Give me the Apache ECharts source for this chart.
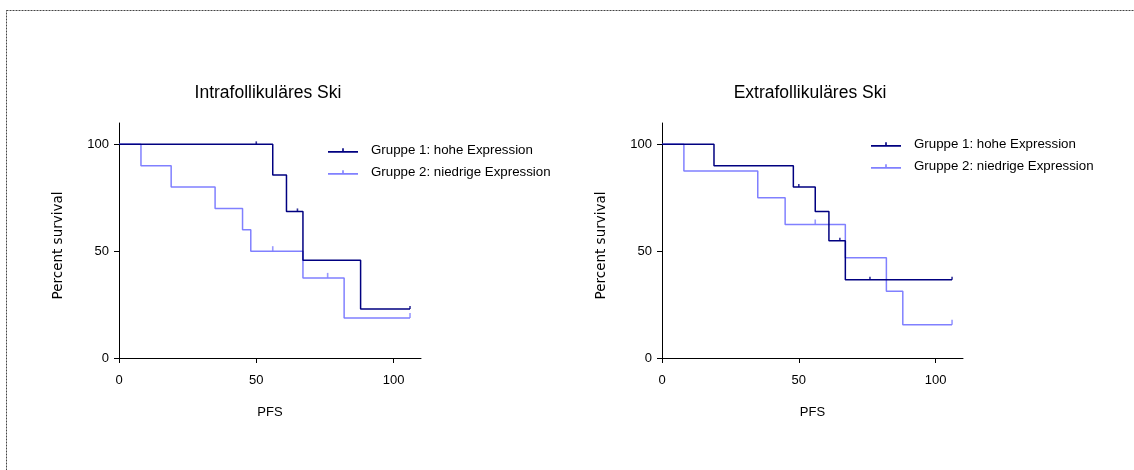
<!DOCTYPE html>
<html>
<head>
<meta charset="utf-8">
<script src="https://cdn.jsdelivr.net/npm/echarts@6/dist/echarts.min.js"></script>
<style>
html,body{margin:0;padding:0;background:#fff;}
#c{width:1134px;height:470px;}
</style>
</head>
<body>
<div id="c"></div>
<script>
// ---------- data ----------
const titles = ['Intrafollikuläres Ski', 'Extrafollikuläres Ski'];
const seriesNames = ['Gruppe 1: hohe Expression', 'Gruppe 2: niedrige Expression'];
const tickValues = [0, 50, 100];

// Left chart (Intrafollikuläres Ski): [time, survival after step]
const intraG1Steps = [[0,100],[56,85.7],[61,68.6],[67,45.7],[88,22.9],[106,22.9]];
const intraG1Censored = [[50,100],[65,68.6],[106,22.9]];
const intraG2Steps = [[0,100],[8,90],[19,80],[35,70],[45,60],[48,50],[67,37.5],[82,18.75],[106,18.75]];
const intraG2Censored = [[56,50],[76,37.5],[106,18.75]];

// Right chart (Extrafollikuläres Ski)
const extraG1Steps = [[0,100],[19,90],[48,80],[56,68.6],[61,54.9],[67,36.6],[106,36.6]];
const extraG1Censored = [[50,80],[65,54.9],[76,36.6],[106,36.6]];
const extraG2Steps = [[0,100],[8,87.5],[35,75],[45,62.5],[67,46.9],[82,31.25],[88,15.6],[106,15.6]];
const extraG2Censored = [[56,62.5],[106,15.6]];

// ---------- chart ----------
const DARK = '#000080';
const LIGHT = '#8080ff';
const FONT = 'Liberation Sans, Arial, sans-serif';

const chart = echarts.init(document.getElementById('c'), null, {renderer: 'canvas'});

const grids = [
  {left: 119, top: 123, width: 302, height: 235},
  {left: 662, top: 123, width: 301, height: 235}
];

function xAxis(i) {
  return {
    gridIndex: i, type: 'value', min: 0, max: 110,
    name: 'PFS', nameLocation: 'middle', nameGap: 48,
    nameTextStyle: {color: '#000', fontSize: 13, fontFamily: FONT},
    axisLine: {show: true, lineStyle: {color: '#000', width: 1}},
    axisTick: {show: true, length: 5, customValues: tickValues, lineStyle: {color: '#000'}},
    axisLabel: {customValues: tickValues, color: '#000', fontSize: 13, fontFamily: FONT, margin: 16},
    splitLine: {show: false}
  };
}
function yAxis(i) {
  return {
    gridIndex: i, type: 'value', min: 0, max: 110,
    name: 'Percent survival', nameLocation: 'middle', nameGap: 54,
    nameTextStyle: {color: '#000', fontSize: 13.5, fontFamily: 'DejaVu Sans, sans-serif', padding: [0, 10, 0, 0]},
    axisLine: {show: true, lineStyle: {color: '#000', width: 1}},
    axisTick: {show: true, length: 5, customValues: tickValues, lineStyle: {color: '#000'}},
    axisLabel: {customValues: tickValues, color: '#000', fontSize: 13, fontFamily: FONT, margin: 10},
    splitLine: {show: false}
  };
}

function stepSeries(name, data, color, idx) {
  return {
    name: name, type: 'line', step: 'end', data: data,
    xAxisIndex: idx, yAxisIndex: idx,
    showSymbol: false, symbol: 'none', animation: false,
    lineStyle: {color: color, width: 1.5},
    itemStyle: {color: color},
    z: color === DARK ? 3 : 2
  };
}
function censorSeries(name, data, color, idx, h) {
  return {
    name: name, type: 'scatter', data: data,
    xAxisIndex: idx, yAxisIndex: idx,
    symbol: 'rect', symbolSize: [1.6, h], symbolOffset: [0, -h / 2],
    itemStyle: {color: color}, animation: false, silent: true,
    z: color === DARK ? 4 : 3
  };
}

const legendIcon = 'path://M0,6h30v1.6h-30z M14.2,3.2h1.6v3h-1.6z';

function legend(left, top) {
  return {
    data: [seriesNames[0], seriesNames[1]], left: left, top: top, orient: 'vertical',
    icon: legendIcon, itemWidth: 30, itemHeight: 7, itemGap: 9,
    selectedMode: false,
    textStyle: {color: '#000', fontSize: 13.3, fontFamily: FONT, padding: [0, 0, 0, 8]},
    padding: 0
  };
}

const option = {
  backgroundColor: '#fff',
  animation: false,
  title: [
    {text: titles[0], left: 263, top: 79, textAlign: 'center',
     textStyle: {color: '#000', fontSize: 17.5, fontWeight: 'normal', fontFamily: FONT}},
    {text: titles[1], left: 805, top: 79, textAlign: 'center',
     textStyle: {color: '#000', fontSize: 17.5, fontWeight: 'normal', fontFamily: FONT}}
  ],
  legend: [legend(328, 144), legend(871, 138)],
  grid: grids,
  xAxis: [xAxis(0), xAxis(1)],
  yAxis: [yAxis(0), yAxis(1)],
  series: [
    stepSeries(seriesNames[1], intraG2Steps, LIGHT, 0),
    stepSeries(seriesNames[0], intraG1Steps, DARK, 0),
    censorSeries('c1a', intraG2Censored, LIGHT, 0, 5),
    censorSeries('c1b', intraG1Censored, DARK, 0, 3),
    stepSeries(seriesNames[1], extraG2Steps, LIGHT, 1),
    stepSeries(seriesNames[0], extraG1Steps, DARK, 1),
    censorSeries('c2a', extraG2Censored, LIGHT, 1, 5),
    censorSeries('c2b', extraG1Censored, DARK, 1, 3)
  ],
  graphic: [{
    type: 'rect', silent: true,
    shape: {x: 6.5, y: 10.5, width: 1140, height: 470},
    style: {fill: 'none', stroke: '#444', lineWidth: 1, lineDash: [2, 1]}
  }]
};
chart.setOption(option);
</script>
</body>
</html>
